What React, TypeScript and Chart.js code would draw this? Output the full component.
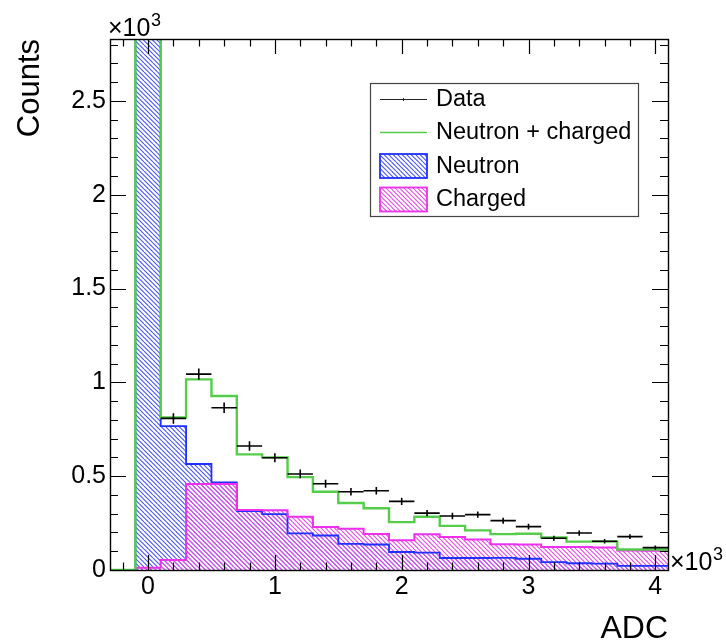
import React, { useEffect, useRef } from 'react';
import { Chart, registerables } from 'chart.js';

Chart.register(...registerables);

const FONT = "'Liberation Sans', Arial, Helvetica, sans-serif";

// Histogram binning (ADC in units of 10^3), bin width 0.2
const binCenters = [0, 0.2, 0.4, 0.6, 0.8, 1.0, 1.2, 1.4, 1.6, 1.8, 2.0, 2.2, 2.4, 2.6, 2.8, 3.0, 3.2, 3.4, 3.6, 3.8, 4.0];
const binWidth = 0.2;

// Counts in units of 10^3 (first bin is off-scale in the picture)
const dataCounts = [6.6, 0.808, 1.044, 0.865, 0.661, 0.598, 0.512, 0.46, 0.417, 0.422, 0.366, 0.303, 0.288, 0.295, 0.263, 0.231, 0.169, 0.197, 0.153, 0.178, 0.119];
const dataErrors = [0.08, 0.028, 0.03, 0.028, 0.025, 0.024, 0.023, 0.021, 0.02, 0.02, 0.019, 0.017, 0.017, 0.017, 0.016, 0.015, 0.013, 0.014, 0.012, 0.013, 0.011];
const totalCounts = [6.61, 0.813, 1.016, 0.927, 0.616, 0.6, 0.495, 0.417, 0.357, 0.329, 0.255, 0.284, 0.235, 0.211, 0.191, 0.193, 0.174, 0.151, 0.151, 0.109, 0.109];
const neutronCounts = [6.6, 0.767, 0.565, 0.467, 0.314, 0.298, 0.195, 0.184, 0.139, 0.136, 0.096, 0.093, 0.064, 0.064, 0.065, 0.06, 0.042, 0.036, 0.034, 0.022, 0.022];
const chargedCounts = [0.012, 0.053, 0.458, 0.458, 0.32, 0.318, 0.284, 0.229, 0.22, 0.192, 0.158, 0.19, 0.176, 0.162, 0.137, 0.136, 0.122, 0.122, 0.12, 0.104, 0.102];

const xTickValues = [0, 1, 2, 3, 4];
const yTickValues = [0, 0.5, 1, 1.5, 2, 2.5];
const legendLabels = ['Data', 'Neutron + charged', 'Neutron', 'Charged'];

const X_MIN = -0.3;
const X_MAX = 4.1;
const Y_MAX = 2.83;

const GREEN = '#55cd4a';
const BLUE = '#1f31ff';
const MAGENTA = '#ec30ec';

function makeHatch(ctx: CanvasRenderingContext2D, color: string) {
  const s = 9;
  const step = 4.5;
  const c = document.createElement('canvas');
  c.width = s;
  c.height = s;
  const g = c.getContext('2d')!;
  g.strokeStyle = color;
  g.lineWidth = 1.1;
  g.beginPath();
  for (let o = -s; o <= s; o += step) {
    g.moveTo(o, 0);
    g.lineTo(o + s, s);
  }
  g.stroke();
  return ctx.createPattern(c, 'repeat')!;
}

function stepPoints(values: number[], fromFrame: boolean) {
  const pts: { x: number; y: number }[] = [];
  if (fromFrame) pts.push({ x: X_MIN, y: 0 });
  pts.push({ x: binCenters[0] - binWidth / 2, y: 0 });
  values.forEach((v, i) => {
    pts.push({ x: binCenters[i] - binWidth / 2, y: v });
    pts.push({ x: binCenters[i] + binWidth / 2, y: v });
  });
  return pts;
}

function drawTimes10(ctx: CanvasRenderingContext2D, x: number, baseline: number) {
  ctx.save();
  ctx.fillStyle = '#000';
  ctx.textBaseline = 'alphabetic';
  ctx.textAlign = 'left';
  ctx.font = `25px ${FONT}`;
  ctx.fillText('\u00d710', x, baseline);
  const w = ctx.measureText('\u00d710').width;
  ctx.font = `18px ${FONT}`;
  ctx.fillText('3', x + w + 0.5, baseline - 10);
  ctx.restore();
}

const rootStyle = {
  id: 'rootStyle',
  afterDatasetsDraw(chart: any) {
    const { ctx, chartArea: a, scales } = chart;
    const xs = scales.x;
    const ys = scales.y;
    const meta = chart.getDatasetMeta(0);
    ctx.save();
    ctx.beginPath();
    ctx.rect(a.left, a.top, a.right - a.left, a.bottom - a.top);
    ctx.clip();
    ctx.strokeStyle = '#000';
    ctx.lineWidth = 1.6;
    meta.data.forEach((pt: any, i: number) => {
      const c = binCenters[i];
      const x0 = xs.getPixelForValue(c - binWidth / 2);
      const x1 = xs.getPixelForValue(c + binWidth / 2);
      const yt = ys.getPixelForValue(dataCounts[i] + dataErrors[i]);
      const yb = ys.getPixelForValue(dataCounts[i] - dataErrors[i]);
      ctx.beginPath();
      ctx.moveTo(x0, pt.y);
      ctx.lineTo(x1, pt.y);
      ctx.moveTo(pt.x, yt);
      ctx.lineTo(pt.x, yb);
      ctx.stroke();
    });
    ctx.restore();
  },
  afterDraw(chart: any) {
    const { ctx, chartArea: a, scales } = chart;
    const xs = scales.x;
    const ys = scales.y;
    ctx.save();
    ctx.strokeStyle = '#000';
    ctx.lineWidth = 1.2;
    // ticks
    ctx.beginPath();
    for (let k = 0; k * 0.1 <= Y_MAX + 1e-9; k++) {
      const y = Math.round(ys.getPixelForValue(k * 0.1)) + 0.5;
      const len = k % 5 === 0 ? 16 : 8;
      ctx.moveTo(a.left, y);
      ctx.lineTo(a.left + len, y);
      ctx.moveTo(a.right, y);
      ctx.lineTo(a.right - len, y);
    }
    for (let k = -1; k <= 20; k++) {
      const x = Math.round(xs.getPixelForValue(k * 0.2)) + 0.5;
      const len = k % 5 === 0 ? 15 : 7.5;
      ctx.moveTo(x, a.bottom);
      ctx.lineTo(x, a.bottom - len);
      ctx.moveTo(x, a.top);
      ctx.lineTo(x, a.top + len);
    }
    ctx.stroke();
    // frame
    ctx.lineWidth = 1.4;
    ctx.strokeRect(a.left + 0.5, a.top + 0.5, a.right - a.left, a.bottom - a.top);
    ctx.restore();

    drawTimes10(ctx, a.left - 2, a.top - 3);
    drawTimes10(ctx, a.right + 2, a.bottom);

    // legend
    const lx0 = 370, ly0 = 83, lx1 = 638, ly1 = 216;
    ctx.save();
    ctx.fillStyle = '#fff';
    ctx.fillRect(lx0, ly0, lx1 - lx0, ly1 - ly0);
    ctx.strokeStyle = '#444';
    ctx.lineWidth = 1.2;
    ctx.strokeRect(lx0 + 0.5, ly0 + 0.5, lx1 - lx0, ly1 - ly0);
    const rowY = [99.5, 132.5, 166, 199.5];
    const sx0 = 380, sx1 = 427;
    // Data sample
    ctx.strokeStyle = '#222';
    ctx.lineWidth = 1;
    ctx.beginPath();
    ctx.moveTo(sx0, rowY[0]);
    ctx.lineTo(sx1, rowY[0]);
    ctx.moveTo((sx0 + sx1) / 2, rowY[0] - 1.5);
    ctx.lineTo((sx0 + sx1) / 2, rowY[0] + 1.5);
    ctx.stroke();
    // total sample
    ctx.strokeStyle = GREEN;
    ctx.lineWidth = 1.5;
    ctx.beginPath();
    ctx.moveTo(sx0, rowY[1]);
    ctx.lineTo(sx1, rowY[1]);
    ctx.stroke();
    // hatched boxes
    const boxes = [
      { y: rowY[2], fill: chart.data.datasets[3].backgroundColor, stroke: BLUE },
      { y: rowY[3], fill: chart.data.datasets[2].backgroundColor, stroke: MAGENTA },
    ];
    boxes.forEach((b) => {
      ctx.fillStyle = b.fill;
      ctx.fillRect(sx0, b.y - 12, sx1 - sx0, 24);
      ctx.strokeStyle = b.stroke;
      ctx.lineWidth = 1.8;
      ctx.strokeRect(sx0, b.y - 12, sx1 - sx0, 24);
    });
    ctx.fillStyle = '#000';
    ctx.font = `23.5px ${FONT}`;
    ctx.textAlign = 'left';
    ctx.textBaseline = 'middle';
    legendLabels.forEach((t, i) => ctx.fillText(t, 436, rowY[i] + 0.5));
    ctx.restore();
  },
};

export default function App() {
  const ref = useRef<HTMLCanvasElement>(null);
  useEffect(() => {
    document.body.style.margin = '0';
    const canvas = ref.current!;
    const ctx = canvas.getContext('2d')!;
    const blueHatch = makeHatch(ctx, '#4a58f6');
    const magentaHatch = makeHatch(ctx, '#e64ee6');
    const chart = new Chart(canvas, {
      type: 'line',
      data: {
        datasets: [
          {
            type: 'scatter',
            label: legendLabels[0],
            data: binCenters.map((x, i) => ({ x, y: dataCounts[i] })),
            pointRadius: 0,
            pointHoverRadius: 0,
            showLine: false,
            borderColor: '#000',
            backgroundColor: '#000',
          } as any,
          {
            label: legendLabels[1],
            data: stepPoints(totalCounts, true),
            borderColor: GREEN,
            borderWidth: 2.4,
            fill: false,
            pointRadius: 0,
            tension: 0,
          },
          {
            label: legendLabels[3],
            data: stepPoints(chargedCounts, false),
            borderColor: MAGENTA,
            borderWidth: 2,
            backgroundColor: magentaHatch,
            fill: 'origin',
            pointRadius: 0,
            tension: 0,
          },
          {
            label: legendLabels[2],
            data: stepPoints(neutronCounts, false),
            borderColor: BLUE,
            borderWidth: 1.8,
            backgroundColor: blueHatch,
            fill: 'origin',
            pointRadius: 0,
            tension: 0,
          },
        ],
      },
      options: {
        responsive: false,
        animation: false,
        events: [],
        layout: { padding: { left: 0, top: 39, right: 58, bottom: 0 } },
        plugins: {
          legend: { display: false },
          tooltip: { enabled: false },
          filler: { drawTime: 'beforeDatasetsDraw' },
        },
        scales: {
          x: {
            type: 'linear',
            min: X_MIN,
            max: X_MAX,
            afterBuildTicks: (s: any) => {
              s.ticks = xTickValues.map((v) => ({ value: v }));
            },
            afterFit: (s: any) => {
              s.height = 72;
            },
            grid: { display: false, drawTicks: false },
            border: { display: false },
            ticks: {
              autoSkip: false,
              maxRotation: 0,
              padding: 2,
              color: '#000',
              font: { family: FONT, size: 25 },
              callback: (v: any) => String(v),
            },
            title: {
              display: true,
              text: 'ADC',
              align: 'end',
              color: '#000',
              font: { family: FONT, size: 32, lineHeight: 0.8 },
              padding: { top: 0, bottom: 0 },
            },
          },
          y: {
            type: 'linear',
            min: 0,
            max: Y_MAX,
            afterBuildTicks: (s: any) => {
              s.ticks = yTickValues.map((v) => ({ value: v }));
            },
            afterFit: (s: any) => {
              s.width = 110;
            },
            grid: { display: false, drawTicks: false },
            border: { display: false },
            ticks: {
              padding: 4,
              color: '#000',
              font: { family: FONT, size: 25 },
              callback: (v: any) => String(v),
            },
            title: {
              display: true,
              text: 'Counts',
              align: 'end',
              color: '#000',
              font: { family: FONT, size: 31, lineHeight: 1 },
              padding: { top: 15, bottom: 0 },
            },
          },
        },
      },
      plugins: [rootStyle],
    });
    return () => chart.destroy();
  }, []);
  return (
    <div style={{ width: 726, height: 642 }}>
      <canvas ref={ref} width={726} height={642} style={{ display: 'block', width: 726, height: 642 }} />
    </div>
  );
}
